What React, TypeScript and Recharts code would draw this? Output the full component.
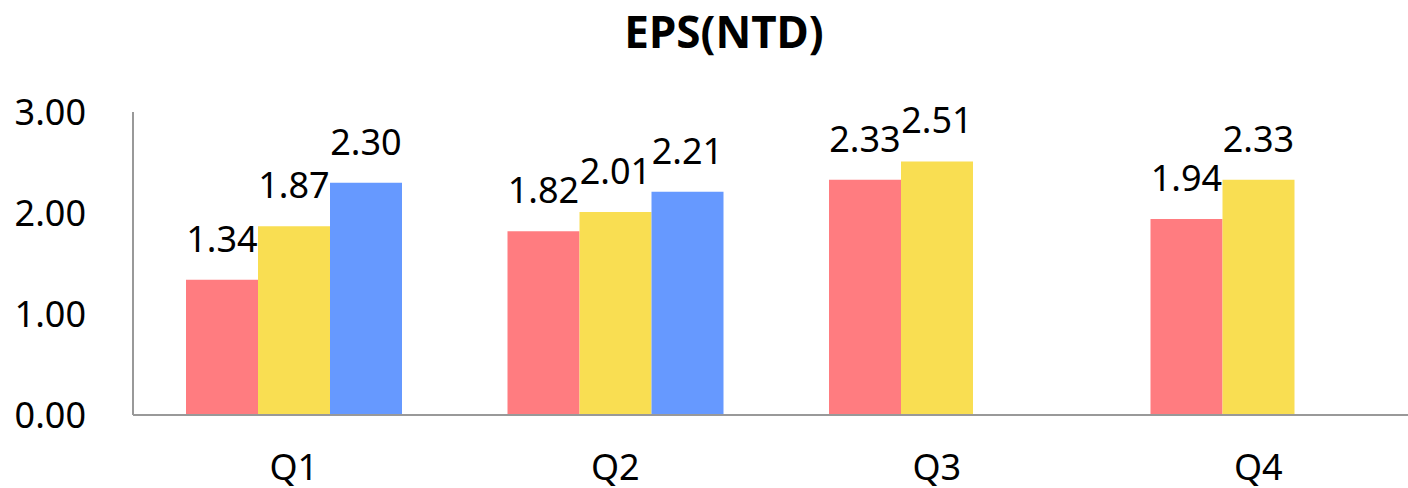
import { BarChart, Bar, XAxis, YAxis, LabelList } from 'recharts'

const quarters = ['Q1', 'Q2', 'Q3', 'Q4']
const seriesA = [1.34, 1.82, 2.33, 1.94]
const seriesB = [1.87, 2.01, 2.51, 2.33]
const seriesC: (number | null)[] = [2.3, 2.21, null, null]
const yTicks = [0, 1, 2, 3]

const data = quarters.map((q, i) => ({
  quarter: q,
  a: seriesA[i],
  b: seriesB[i],
  c: seriesC[i],
}))

const font = '"Noto Sans", "Open Sans", sans-serif'
const fmt = (v: any) => (typeof v === 'number' ? v.toFixed(2) : '')

const App = () => {
  return (
    <div
      style={{
        position: 'fixed',
        left: 0,
        top: 0,
        width: 1408,
        height: 488,
        overflow: 'hidden',
        background: '#fff',
        fontFamily: font,
      }}
    >
      <div
        style={{
          position: 'absolute',
          left: 524,
          top: 9,
          width: 400,
          textAlign: 'center',
          fontSize: 44,
          lineHeight: '44px',
          fontWeight: 700,
          color: '#000',
        }}
      >
        EPS(NTD)
      </div>
      <BarChart
        width={1420}
        height={488}
        data={data}
        margin={{ top: 112, right: 1, bottom: 0, left: 0 }}
        barCategoryGap={53}
        barGap={0}
      >
        <XAxis
          dataKey="quarter"
          height={73}
          tickLine={false}
          tickSize={0}
          tickMargin={39}
          axisLine={{ stroke: '#999', strokeWidth: 2 }}
          tick={{ fill: '#000', fontSize: 36, fontFamily: font }}
        />
        <YAxis
          width={133}
          domain={[0, 3]}
          ticks={yTicks}
          tickFormatter={fmt}
          tickLine={false}
          tickSize={0}
          tickMargin={47}
          axisLine={{ stroke: '#999', strokeWidth: 2 }}
          tick={{ fill: '#000', fontSize: 36, fontFamily: font }}
        />
        <Bar dataKey="a" fill="#FF7C80" isAnimationActive={false}>
          <LabelList dataKey="a" position="top" offset={28} formatter={fmt} fill="#000" fontSize={36} fontFamily={font} />
        </Bar>
        <Bar dataKey="b" fill="#F9DE52" isAnimationActive={false}>
          <LabelList dataKey="b" position="top" offset={28} formatter={fmt} fill="#000" fontSize={36} fontFamily={font} />
        </Bar>
        <Bar dataKey="c" fill="#6699FF" isAnimationActive={false}>
          <LabelList dataKey="c" position="top" offset={28} formatter={fmt} fill="#000" fontSize={36} fontFamily={font} />
        </Bar>
      </BarChart>
    </div>
  )
}

export default App
